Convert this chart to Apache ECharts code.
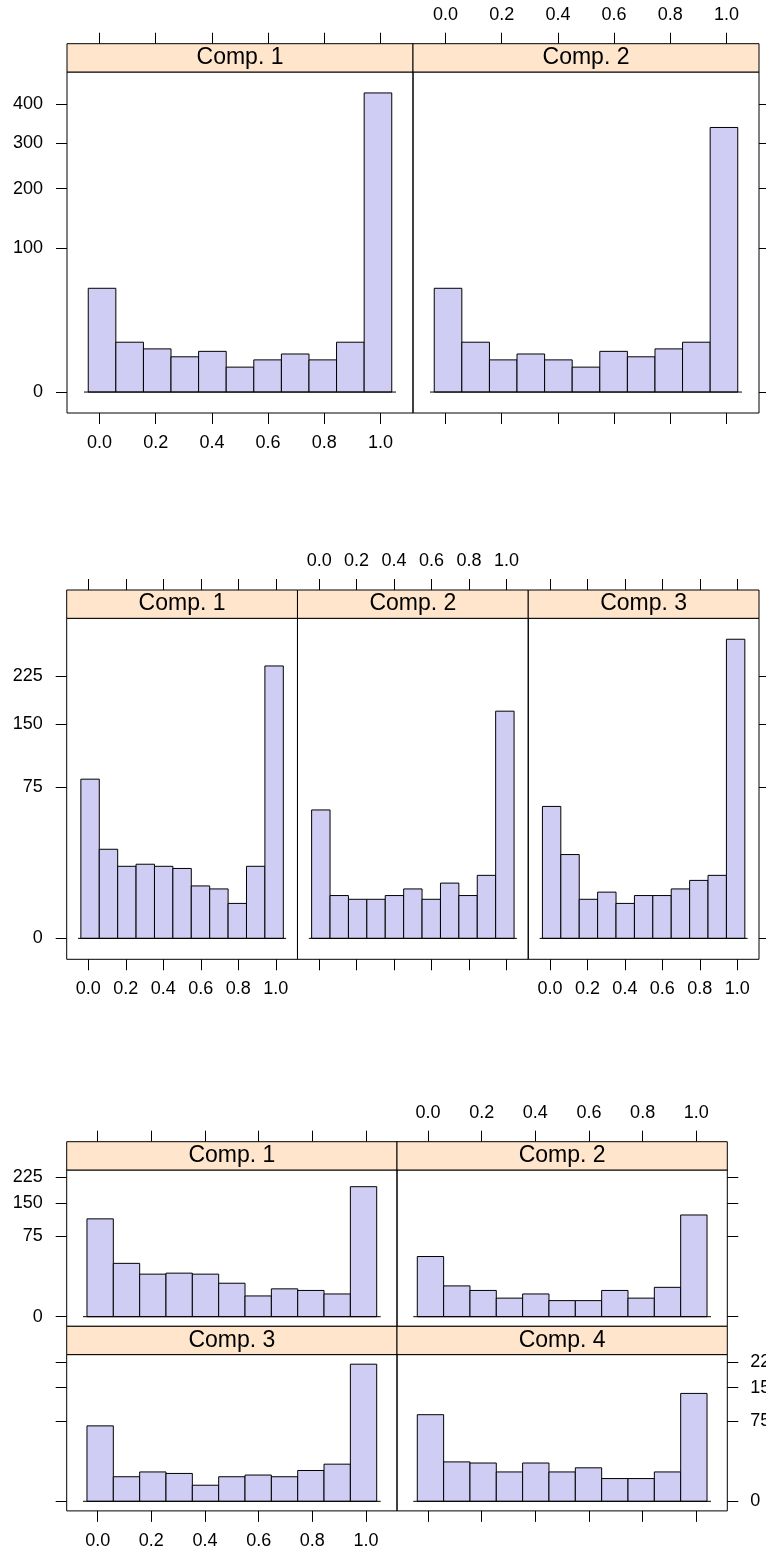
<!DOCTYPE html>
<html><head><meta charset="utf-8">
<script src="https://cdn.jsdelivr.net/npm/echarts@6/dist/echarts.min.js"></script>
<style>html,body{margin:0;padding:0;background:#fff}#chart{width:766px;height:1554px}</style>
</head><body><div id="chart"></div>
<script>
// ---- data ----
const binBreaks = [-0.04, 0.0582, 0.1564, 0.2545, 0.3527, 0.4509, 0.5491, 0.6473, 0.7455, 0.8436, 0.9418, 1.04];
const xTickValues = [0, 0.2, 0.4, 0.6, 0.8, 1.0];
const panelNames = ['Comp. 1', 'Comp. 2', 'Comp. 3', 'Comp. 4'];

const yTicksTwo = [0, 100, 200, 300, 400];
const yTicksThree = [0, 75, 150, 225];
const yTicksFour = [0, 75, 150, 225];

const twoComp1 = [52, 12, 9, 6, 8, 3, 5, 7, 5, 12, 432];
const twoComp2 = [52, 12, 5, 7, 5, 3, 8, 6, 9, 12, 338];

const threeComp1 = [83, 26, 17, 18, 17, 16, 9, 8, 4, 17, 243];
const threeComp2 = [54, 6, 5, 5, 6, 8, 5, 10, 6, 13, 169];
const threeComp3 = [57, 23, 5, 7, 4, 6, 6, 8, 11, 13, 293];

const fourComp1 = [111, 33, 21, 22, 21, 13, 5, 9, 8, 6, 196];
const fourComp2 = [42, 11, 8, 4, 6, 3, 3, 8, 4, 10, 120];
const fourComp3 = [66, 7, 10, 9, 3, 7, 8, 7, 11, 16, 218];
const fourComp4 = [87, 18, 17, 10, 17, 10, 13, 6, 6, 10, 135];

// ---- layout / style ----
const FONT = '"Liberation Sans", Arial, Helvetica, sans-serif';
const BAR_FILL = '#d0cdf4';
const STRIP_FILL = '#ffe5cc';
const STRIP_H = 28.3;
const TICK_LEN = 11;
const LABEL_SIZE = 18;

const blocks = [
  {rows: 1, cols: 2, counts: [twoComp1, twoComp2], yTicks: yTicksTwo, left: 67, top: 72, panelW: 346, panelH: 341},
  {rows: 1, cols: 3, counts: [threeComp1, threeComp2, threeComp3], yTicks: yTicksThree, left: 66.7, top: 618.3, panelW: 230.77, panelH: 341},
  {rows: 2, cols: 2, counts: [fourComp1, fourComp2, fourComp3, fourComp4], yTicks: yTicksFour, left: 66.7, top: 1170, panelW: 330.3, panelH: 156.3}
];

const xRange = binBreaks[binBreaks.length - 1] - binBreaks[0];
const xMin = binBreaks[0] - 0.07 * xRange;
const xMax = binBreaks[binBreaks.length - 1] + 0.07 * xRange;

const grid = [], xAxis = [], yAxis = [], series = [], graphic = [];

function tickStyle(show) {
  return {show: show, length: TICK_LEN, inside: false, lineStyle: {color: '#000', width: 1}};
}
const hiddenLine = {show: false, onZero: false};

function renderBar(params, api) {
  const p0 = api.coord([api.value(0), api.value(2)]);
  const p1 = api.coord([api.value(1), 0]);
  return {
    type: 'rect',
    shape: {x: p0[0], y: p0[1], width: p1[0] - p0[0], height: p1[1] - p0[1]},
    style: {fill: BAR_FILL, stroke: '#000', lineWidth: 1}
  };
}

blocks.forEach(function (b) {
  let maxCount = 0;
  b.counts.forEach(function (arr) { arr.forEach(function (v) { if (v > maxCount) maxCount = v; }); });
  const M = Math.sqrt(maxCount);
  const yMin = -0.07 * M, yMax = 1.07 * M;
  const yTickVals = b.yTicks.map(Math.sqrt);
  const yFmt = function (v) { return String(Math.round(v * v)); };
  const xFmt = function (v) { return v.toFixed(1); };

  b.counts.forEach(function (cnt, idx) {
    const r = Math.floor(idx / b.cols), c = idx % b.cols;
    const left = b.left + c * b.panelW;
    const top = b.top + r * (b.panelH + STRIP_H);
    const gi = grid.length;
    grid.push({left: left, top: top, width: b.panelW, height: b.panelH, show: true,
      borderColor: '#000', borderWidth: 1, backgroundColor: 'transparent',
      containLabel: false, outerBoundsMode: 'none'});

    const isBottom = r === b.rows - 1, isTop = r === 0;
    const isLeft = c === 0, isRight = c === b.cols - 1;

    const xb = xAxis.length;
    xAxis.push({type: 'value', gridIndex: gi, position: 'bottom', min: xMin, max: xMax,
      axisLine: hiddenLine, splitLine: {show: false},
      axisTick: Object.assign(tickStyle(isBottom), {customValues: xTickValues}),
      axisLabel: {show: isBottom && c % 2 === 0, customValues: xTickValues, formatter: xFmt,
        margin: 21, fontSize: LABEL_SIZE, color: '#000', fontFamily: FONT}});
    if (isTop) {
      xAxis.push({type: 'value', gridIndex: gi, position: 'top', offset: STRIP_H, min: xMin, max: xMax,
        axisLine: hiddenLine, splitLine: {show: false},
        axisTick: Object.assign(tickStyle(true), {customValues: xTickValues}),
        axisLabel: {show: c % 2 === 1, customValues: xTickValues, formatter: xFmt,
          margin: 20, fontSize: LABEL_SIZE, color: '#000', fontFamily: FONT}});
    }
    const yl = yAxis.length;
    yAxis.push({type: 'value', gridIndex: gi, position: 'left', min: yMin, max: yMax,
      axisLine: hiddenLine, splitLine: {show: false},
      axisTick: Object.assign(tickStyle(isLeft), {customValues: yTickVals}),
      axisLabel: {show: isLeft && r % 2 === 0, customValues: yTickVals, formatter: yFmt,
        margin: 24, fontSize: LABEL_SIZE, color: '#000', fontFamily: FONT}});
    if (isRight) {
      yAxis.push({type: 'value', gridIndex: gi, position: 'right', min: yMin, max: yMax,
        axisLine: hiddenLine, splitLine: {show: false},
        axisTick: Object.assign(tickStyle(true), {customValues: yTickVals}),
        axisLabel: {show: r % 2 === 1, customValues: yTickVals, formatter: yFmt,
          margin: 23, fontSize: LABEL_SIZE, color: '#000', fontFamily: FONT}});
    }

    const data = cnt.map(function (v, i) { return [binBreaks[i], binBreaks[i + 1], Math.sqrt(v)]; });
    series.push({type: 'custom', xAxisIndex: xb, yAxisIndex: yl, renderItem: renderBar,
      encode: {x: [0, 1], y: 2}, data: data, silent: true, clip: false});
    series.push({type: 'line', xAxisIndex: xb, yAxisIndex: yl, symbol: 'none', silent: true,
      lineStyle: {color: '#000', width: 1},
      data: [[binBreaks[0] - 0.015, 0], [binBreaks[binBreaks.length - 1] + 0.015, 0]], z: 3});

    graphic.push({type: 'rect', shape: {x: left, y: top - STRIP_H, width: b.panelW, height: STRIP_H},
      style: {fill: STRIP_FILL, stroke: '#000', lineWidth: 1}, z: 10});
    graphic.push({type: 'text', x: left + b.panelW / 2, y: top - STRIP_H / 2,
      style: {text: panelNames[idx], fontSize: 23, fontFamily: FONT, fill: '#000',
        align: 'center', verticalAlign: 'middle'}, z: 11});
  });
});

const chart = echarts.init(document.getElementById('chart'), null, {renderer: 'canvas', width: 766, height: 1554});
chart.setOption({
  animation: false,
  backgroundColor: '#fff',
  grid: grid, xAxis: xAxis, yAxis: yAxis, series: series, graphic: graphic
});
</script>
</body></html>
